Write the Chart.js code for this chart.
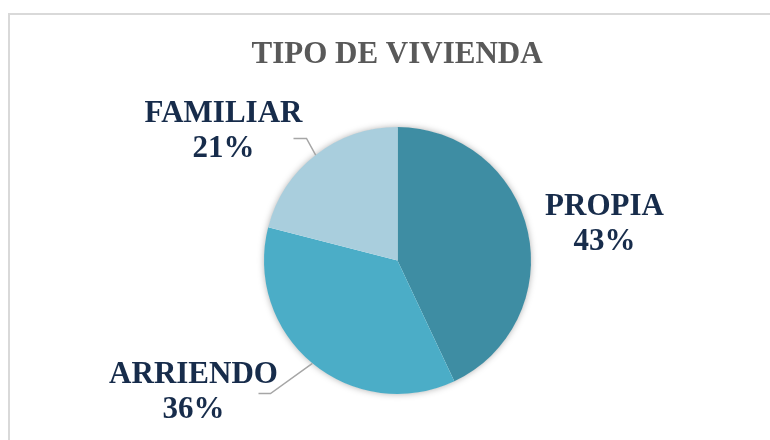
<!DOCTYPE html>
<html>
<head>
<meta charset="utf-8">
<title>Tipo de vivienda</title>
<script src="https://cdn.jsdelivr.net/npm/chart.js@4/dist/chart.umd.min.js"></script>
<style>
    html, body { margin: 0; padding: 0; background: #ffffff; }
    #wrap { width: 770px; height: 440px; }
</style>
</head>
<body>
<div id="wrap"><canvas id="viviendaChart" width="770" height="440"></canvas></div>
<script>
// Data
const categories = ['PROPIA', 'ARRIENDO', 'FAMILIAR'];
const shares = [43, 36, 21];
const sliceColors = ['#3E8DA3', '#4BADC7', '#A9CEDD'];

const chartTitle = 'TIPO DE VIVIENDA';
const serif = "'Liberation Serif', 'Times New Roman', serif";

// Where each data label sits, relative to the pie centre (first line baseline)
const labelOffsets = [
    { dx: 207, dy: -46 },
    { dx: -204, dy: 122 },
    { dx: -174, dy: -139 }
];
// Leader lines: elbow and end, relative to the pie centre (null = no leader)
const leaders = [
    null,
    { elbow: [-127, 133], end: [-139, 133] },
    { elbow: [-91, -122], end: [-104, -122] }
];

/**
 * Frame, title, soft shadow behind the pie.
 */
const decorPlugin = {
    id: 'decor',
    beforeDraw(chart) {
        const ctx = chart.ctx;
        ctx.save();
        ctx.fillStyle = '#ffffff';
        ctx.fillRect(0, 0, chart.width, chart.height);
        // frame (only top and left edges are inside the picture)
        ctx.fillStyle = '#D9D9D9';
        ctx.fillRect(8, 13, chart.width - 8, 2);
        ctx.fillRect(8, 13, 2, chart.height - 13);
        // title
        ctx.fillStyle = '#595959';
        ctx.font = 'bold 31px ' + serif;
        ctx.textAlign = 'center';
        ctx.textBaseline = 'alphabetic';
        ctx.fillText(chartTitle, 397, 63);
        ctx.restore();
    },
    beforeDatasetsDraw(chart) {
        const arc = chart.getDatasetMeta(0).data[0];
        if (!arc) return;
        const ctx = chart.ctx;
        ctx.save();
        ctx.shadowColor = 'rgba(0, 0, 0, 0.35)';
        ctx.shadowBlur = 7;
        ctx.fillStyle = '#ffffff';
        ctx.beginPath();
        ctx.arc(arc.x, arc.y, arc.outerRadius - 0.5, 0, Math.PI * 2);
        ctx.fill();
        ctx.restore();
    },
    afterDatasetsDraw(chart) {
        const meta = chart.getDatasetMeta(0);
        const ctx = chart.ctx;
        ctx.save();
        meta.data.forEach((arc, i) => {
            const cx = arc.x;
            const cy = arc.y;
            // leader line from the middle of the slice edge
            const lead = leaders[i];
            if (lead) {
                const mid = (arc.startAngle + arc.endAngle) / 2;
                const sx = cx + Math.cos(mid) * arc.outerRadius;
                const sy = cy + Math.sin(mid) * arc.outerRadius;
                ctx.strokeStyle = '#A6A6A6';
                ctx.lineWidth = 1.5;
                ctx.beginPath();
                ctx.moveTo(sx, sy);
                ctx.lineTo(cx + lead.elbow[0], cy + lead.elbow[1]);
                ctx.lineTo(cx + lead.end[0], cy + lead.end[1]);
                ctx.stroke();
            }
            // two-line label: category and percentage
            const off = labelOffsets[i];
            ctx.fillStyle = '#172C4B';
            ctx.font = 'bold 31px ' + serif;
            ctx.textAlign = 'center';
            ctx.textBaseline = 'alphabetic';
            ctx.fillText(categories[i], cx + off.dx, cy + off.dy);
            ctx.fillText(shares[i] + '%', cx + off.dx, cy + off.dy + 35);
        });
        ctx.restore();
    }
};

const ctx = document.getElementById('viviendaChart');
new Chart(ctx, {
    type: 'pie',
    data: {
        labels: categories,
        datasets: [{
            data: shares,
            backgroundColor: sliceColors,
            borderWidth: 0,
            hoverOffset: 0
        }]
    },
    options: {
        responsive: false,
        animation: false,
        layout: {
            padding: { left: 264, right: 239, top: 127, bottom: 46 }
        },
        plugins: {
            legend: { display: false },
            title: { display: false },
            tooltip: { enabled: false }
        }
    },
    plugins: [decorPlugin]
});
</script>
</body>
</html>
